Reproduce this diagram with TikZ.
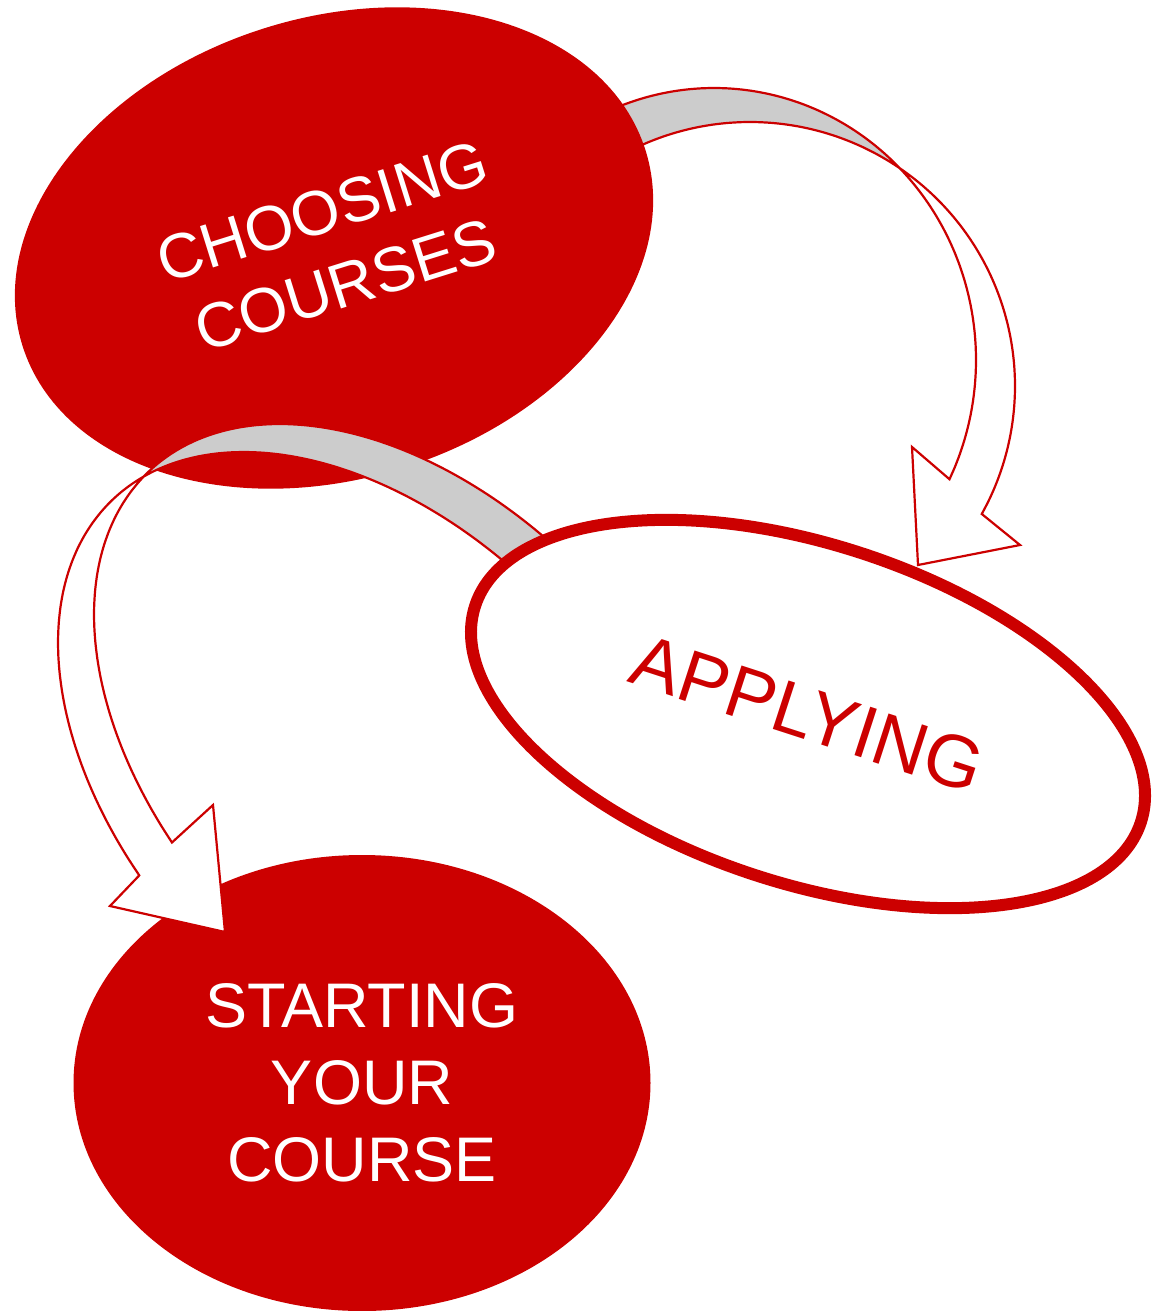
\documentclass[tikz,border=0pt]{standalone}
\usepackage{fontspec}
\setmainfont{Liberation Sans}
\usepackage{tikz}
\usetikzlibrary{shapes}
\usetikzlibrary{shapes.geometric}
\usetikzlibrary{positioning}
\definecolor{stepred}{RGB}{204,0,0}
\definecolor{ribbongrey}{RGB}{204,204,204}

% curved ribbon arrows: two elliptic edges that cross once
\def\ribbonone{plot[smooth, samples=50, domain=-116:26] ({714+262*cos(\x)}, {360+272*sin(\x)})
  -- (912,447) -- (918,565) -- (1020,545)
  -- plot[smooth, samples=50, domain=29:-119] ({750+265*cos(\x)}, {386+264*sin(\x)}) -- cycle}
\def\ribbontwo{plot[smooth, samples=50, domain=-95:-255.4] ({411.5+262*cos(\x)-179.3*sin(\x)}, {750+279.2*cos(\x)+168.3*sin(\x)})
  -- (213,805) -- (225,932) -- (110,906)
  -- plot[smooth, samples=50, domain=-256.3:-96] ({375.5+262*cos(\x)-179.3*sin(\x)}, {778+279.2*cos(\x)+168.3*sin(\x)}) -- cycle}

\begin{document}
\begin{tikzpicture}[x=1pt, y=-1pt,
    bubble/.style={ellipse, fill=stepred, text=white, align=center,
      font=\fontsize{63}{77}\selectfont},
    ribbon/.style={draw=stepred, line width=2.2pt}]
  \useasboundingbox (0,0) rectangle (1153,1311);
  % choosing -> applying
  \fill[white] \ribbonone;
  \begin{scope}
    \clip (475,668) -- (1325,-332) -- (325,-1182) -- (-525,-182) -- cycle;
    \fill[ribbongrey] \ribbonone;
  \end{scope}
  \draw[ribbon] \ribbonone;
  \node[bubble, minimum width=653pt, minimum height=461pt, rotate=17.4] (choose) at (334,248) {CHOOSING\\COURSES};
  \node[bubble, minimum width=577pt, minimum height=456pt] (start) at (362,1083) {STARTING\\YOUR\\COURSE};
  % applying -> starting
  \fill[white] \ribbontwo;
  \begin{scope}
    \clip (622,1079) -- (-338,-121) -- (662,-921) -- (1622,279) -- cycle;
    \fill[ribbongrey] \ribbontwo;
  \end{scope}
  \draw[ribbon] \ribbontwo;
  \node[bubble, fill=white, draw=stepred, line width=12pt, text=stepred,
    font=\fontsize{74}{88}\selectfont, minimum width=700pt, minimum height=339pt, rotate=-18] (apply) at (808,714) {APPLYING};
\end{tikzpicture}
\end{document}
